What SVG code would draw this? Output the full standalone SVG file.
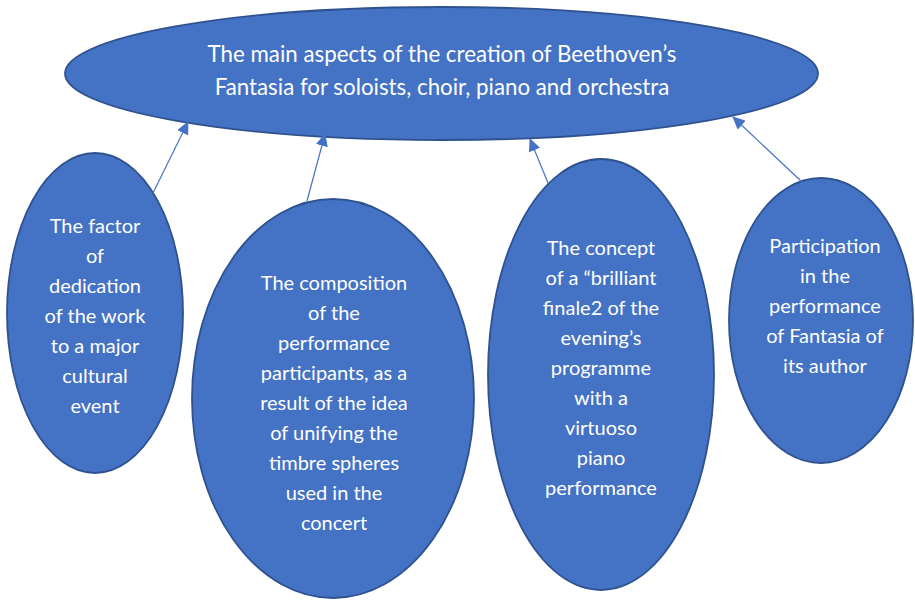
<svg xmlns="http://www.w3.org/2000/svg" width="915" height="600" viewBox="0 0 915 600">
<style>
.node{fill:#4472C4;stroke:#2F528F;stroke-width:1.8}
.t{fill:#ffffff;font-family:Lato,"Liberation Sans",sans-serif;text-anchor:middle}
.title{font-size:22.3px}
.lbl{font-size:20px}
.conn{stroke:#4472C4;stroke-width:1.2;fill:none;marker-end:url(#ah)}
</style>
<defs>
<marker id="ah" markerUnits="userSpaceOnUse" markerWidth="13" markerHeight="12" refX="12" refY="6" orient="auto">
<path d="M0,0 L13,6 L0,12 z" fill="#4472C4"/>
</marker>
</defs>
<rect width="915" height="600" fill="#ffffff"/>
<g id="main">
<ellipse class="node" cx="441.5" cy="73.5" rx="376.5" ry="66.5"/>
<text class="t title" x="442" y="62">The main aspects of the creation of Beethoven’s</text>
<text class="t title" x="442" y="95">Fantasia for soloists, choir, piano and orchestra</text>
</g>
<g id="node1">
<ellipse class="node" cx="95" cy="313" rx="88" ry="160"/>
<text class="t lbl" x="95" y="233">The factor</text>
<text class="t lbl" x="95" y="263">of</text>
<text class="t lbl" x="95" y="293">dedication</text>
<text class="t lbl" x="95" y="323">of the work</text>
<text class="t lbl" x="95" y="353">to a major</text>
<text class="t lbl" x="95" y="383">cultural</text>
<text class="t lbl" x="95" y="413">event</text>
</g>
<g id="node2">
<ellipse class="node" cx="333" cy="398.5" rx="141" ry="199.5"/>
<text class="t lbl" x="334" y="290">The composition</text>
<text class="t lbl" x="334" y="320">of the</text>
<text class="t lbl" x="334" y="350">performance</text>
<text class="t lbl" x="334" y="380">participants, as a</text>
<text class="t lbl" x="334" y="410">result of the idea</text>
<text class="t lbl" x="334" y="440">of unifying the</text>
<text class="t lbl" x="334" y="470">timbre spheres</text>
<text class="t lbl" x="334" y="500">used in the</text>
<text class="t lbl" x="334" y="530">concert</text>
</g>
<g id="node3">
<ellipse class="node" cx="601" cy="374.5" rx="113" ry="215.5"/>
<text class="t lbl" x="601" y="255">The concept</text>
<text class="t lbl" x="601" y="285">of a “brilliant</text>
<text class="t lbl" x="601" y="315">finale2 of the</text>
<text class="t lbl" x="601" y="345">evening’s</text>
<text class="t lbl" x="601" y="375">programme</text>
<text class="t lbl" x="601" y="405">with a</text>
<text class="t lbl" x="601" y="435">virtuoso</text>
<text class="t lbl" x="601" y="465">piano</text>
<text class="t lbl" x="601" y="495">performance</text>
</g>
<g id="node4">
<ellipse class="node" cx="821" cy="320.5" rx="92" ry="142.5"/>
<text class="t lbl" x="825" y="253">Participation</text>
<text class="t lbl" x="825" y="283">in the</text>
<text class="t lbl" x="825" y="313">performance</text>
<text class="t lbl" x="825" y="343">of Fantasia of</text>
<text class="t lbl" x="825" y="373">its author</text>
</g>
<g id="connectors">
<line class="conn" x1="153" y1="193" x2="188" y2="122"/>
<line class="conn" x1="307" y1="201" x2="325" y2="134"/>
<line class="conn" x1="548" y1="183" x2="530" y2="139"/>
<line class="conn" x1="802" y1="182" x2="733" y2="117"/>
</g>
</svg>
